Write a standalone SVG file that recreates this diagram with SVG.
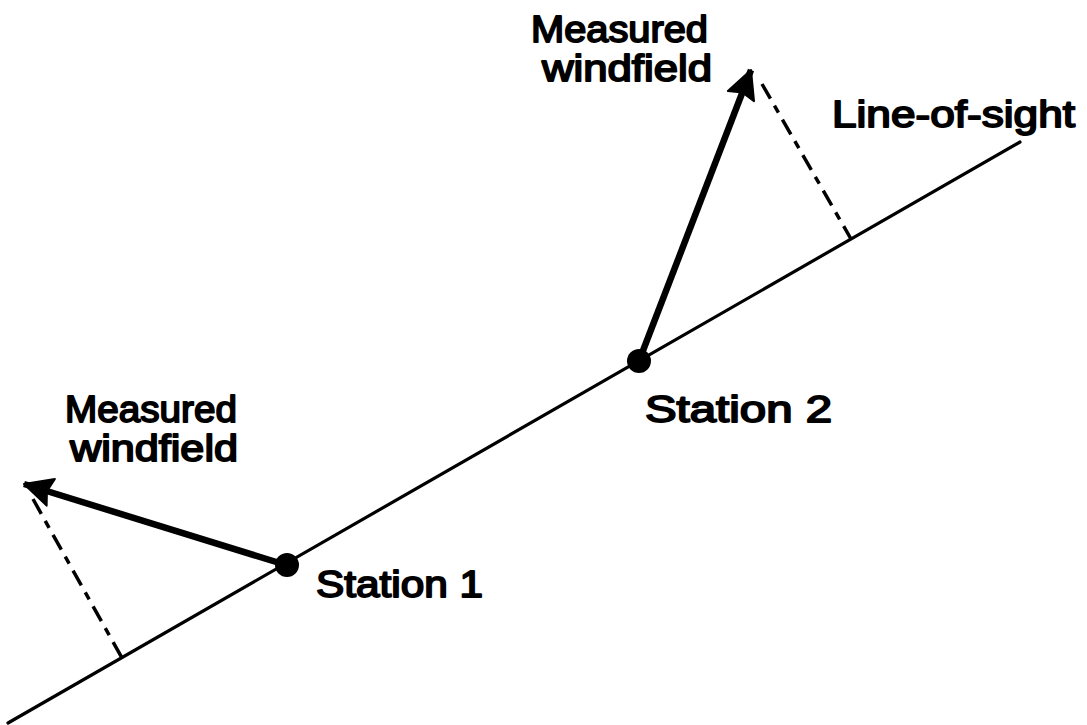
<svg xmlns="http://www.w3.org/2000/svg" width="1087" height="725" viewBox="0 0 1087 725">
<style>
.los{stroke:#000;stroke-width:3.2;fill:none;stroke-linecap:round}
.vec{stroke:#000;stroke-width:6.5;fill:none;stroke-linecap:butt}
.dash{stroke:#000;stroke-width:3.5;fill:none;stroke-dasharray:17 8 8 8}
.lbl{font-family:"Liberation Sans",Arial,sans-serif;font-size:37px;font-weight:normal;fill:#000;stroke:#000;stroke-width:1.8;stroke-linejoin:round}
</style>
<defs>
<marker id="ah" markerUnits="userSpaceOnUse" markerWidth="34" markerHeight="32" refX="28" refY="14" orient="auto" overflow="visible">
<path d="M0,0 L28,14 L0,28 L4,14 Z" fill="#000" stroke="#000" stroke-width="2" stroke-linejoin="round"/>
</marker>
</defs>
<rect width="1087" height="725" fill="#fff"/>
<g id="connectors">
<line class="los" x1="8" y1="723" x2="1020" y2="142"/>
<line class="vec" x1="286" y1="565" x2="24" y2="484" marker-end="url(#ah)"/>
<line class="vec" x1="639" y1="361" x2="751" y2="70" marker-end="url(#ah)"/>
<line class="dash" x1="33" y1="499" x2="122" y2="658"/>
<line class="dash" x1="762" y1="84" x2="851" y2="239"/>
</g>
<g id="station1">
<circle cx="287" cy="565" r="12" fill="#000"/>
<text class="lbl" x="316" y="597" textLength="167" lengthAdjust="spacingAndGlyphs">Station 1</text>
</g>
<g id="station2">
<circle cx="639" cy="361" r="12" fill="#000"/>
<text class="lbl" x="645" y="422" textLength="187" lengthAdjust="spacingAndGlyphs">Station 2</text>
</g>
<g id="windfield1">
<text class="lbl" x="65" y="422" textLength="172" lengthAdjust="spacingAndGlyphs">Measured</text>
<text class="lbl" x="70" y="461" textLength="168" lengthAdjust="spacingAndGlyphs">windfield</text>
</g>
<g id="windfield2">
<text class="lbl" x="531" y="42" textLength="177" lengthAdjust="spacingAndGlyphs">Measured</text>
<text class="lbl" x="542" y="81" textLength="170" lengthAdjust="spacingAndGlyphs">windfield</text>
</g>
<g id="lineofsight">
<text class="lbl" x="832" y="127" textLength="243" lengthAdjust="spacingAndGlyphs">Line-of-sight</text>
</g>
</svg>
